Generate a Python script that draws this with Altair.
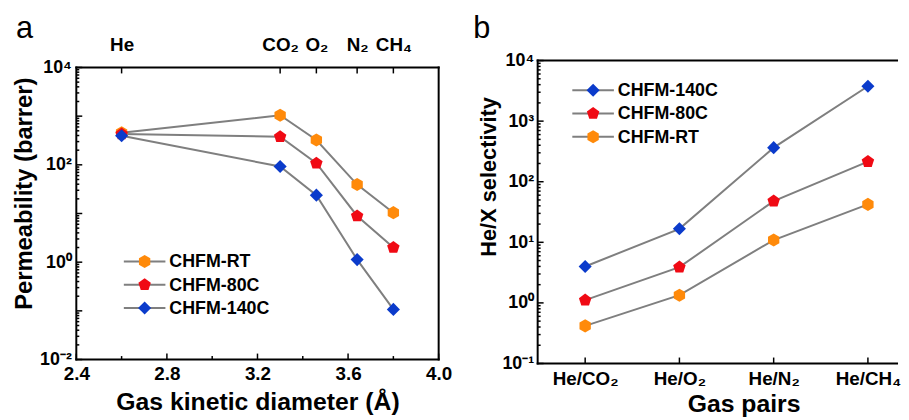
import altair as alt
import pandas as pd

# ---------------- data ----------------
gases = ["He", "CO₂", "O₂", "N₂", "CH₄"]
diameters = [2.6, 3.3, 3.46, 3.64, 3.8]
perm_rt = [455, 1043, 323, 39.3, 10.4]
perm_80c = [430, 377, 108, 8.9, 2.0]
perm_140c = [395, 92.5, 23.8, 1.13, 0.107]

pairs = ["He/CO₂", "He/O₂", "He/N₂", "He/CH₄"]
sel_140c = [3.99, 16.7, 365, 3760]
sel_80c = [1.11, 3.89, 47.8, 215]
sel_rt = [0.418, 1.34, 10.9, 42.2]

series_a = ["CHFM-RT", "CHFM-80C", "CHFM-140C"]
series_b = ["CHFM-140C", "CHFM-80C", "CHFM-RT"]

# axis tick positions
xa_major = [2.4, 2.8, 3.2, 3.6, 4.0]
xa_minor = [2.6, 3.0, 3.4, 3.8]
ya_labels = [0.01, 1, 100, 1e4]
ya_major = [0.01, 0.1, 1, 10, 100, 1000, 1e4]
yb_major = [0.1, 1, 10, 100, 1000, 1e4]

COLORS = {"CHFM-RT": "#FF8A0A", "CHFM-80C": "#F00A14", "CHFM-140C": "#0B3BCB"}
HEX = "M0,-1L0.866,-0.5L0.866,0.5L0,1L-0.866,0.5L-0.866,-0.5Z"
PENT = "M0,-1L0.951,-0.309L0.588,0.809L-0.588,0.809L-0.951,-0.309Z"
DIAM = "M-1,0L0,-1L1,0L0,1Z"
SHAPES = {"CHFM-RT": HEX, "CHFM-80C": PENT, "CHFM-140C": DIAM}

LINE = "#7f7f7f"
FONT = "Liberation Sans"
BLACK = "#000000"
MSIZE = 175

rows_a = []
for name, vals in zip(series_a, [perm_rt, perm_80c, perm_140c]):
    for g, d, v in zip(gases, diameters, vals):
        rows_a.append({"series": name, "gas": g, "diameter": d, "value": v})
df_a = pd.DataFrame(rows_a)

rows_b = []
for name, vals in zip(series_b, [sel_140c, sel_80c, sel_rt]):
    for i, (p, v) in enumerate(zip(pairs, vals)):
        rows_b.append({"series": name, "pair": p, "idx": i, "value": v})
df_b = pd.DataFrame(rows_b)

W_A, H_A = 366, 302
W_B, H_B = 363, 306
A_SHIFT = 7                                  # panel a box starts 7px below panel b box
A_TOP = 10 ** (4 + A_SHIFT / 49.17)

SUP = {-2: "⁻²", -1: "⁻¹", 0: "⁰", 1: "¹", 2: "²", 3: "³", 4: "⁴"}


def pow_label(exps):
    e = "round(log(datum.value)/LN10)"
    s = "''"
    for k in reversed(exps):
        s = f"({e} == {k} ? '{SUP[k]}' : {s})"
    return "'10' + " + s


def map_label(vals, names):
    s = "''"
    for v, n in reversed(list(zip(vals, names))):
        s = f"(abs(datum.value - {v}) < 0.001 ? '{n}' : {s})"
    return s


def log_minor(lo, hi):
    return [k * 10.0 ** e for e in range(lo, hi) for k in range(2, 10)]


def y_ticks(vals, size):
    d = pd.DataFrame({"t": vals})
    return alt.Chart(d).mark_rule(color=BLACK, strokeWidth=1.5).encode(
        y=alt.Y("t:Q", axis=None), x=alt.value(0), x2=alt.value(size))


def x_ticks(vals, y0, y1):
    d = pd.DataFrame({"t": vals})
    return alt.Chart(d).mark_rule(color=BLACK, strokeWidth=1.5).encode(
        x=alt.X("t:Q", axis=None), y=alt.value(y0), y2=alt.value(y1))


def vborder(xv, y0, y1):
    d = pd.DataFrame({"x": [xv], "y": [y0], "y2": [y1]})
    return alt.Chart(d).mark_rule(color=BLACK, strokeWidth=2, strokeCap="square").encode(
        x=alt.X("x:Q", axis=None), y=alt.Y("y:Q", axis=None), y2="y2:Q")


def hborder(yv, width):
    d = pd.DataFrame({"y": [yv]})
    return alt.Chart(d).mark_rule(color=BLACK, strokeWidth=2, strokeCap="square").encode(
        y=alt.Y("y:Q", axis=None), x=alt.value(0), x2=alt.value(width))


def panel_letter(letter, dx, dy):
    d = pd.DataFrame({"t": [letter]})
    return alt.Chart(d).mark_text(font=FONT, fontSize=31, color=BLACK, align="left",
                                  baseline="alphabetic").encode(
        text="t:N", x=alt.value(dx), y=alt.value(dy))


def legend_layers(series, cx, y0, step):
    layers = []
    for i, s in enumerate(series):
        d = pd.DataFrame({"series": [s]})
        yy = y0 + i * step
        base = alt.Chart(d)
        layers.append(base.mark_rule(color=LINE, strokeWidth=2).encode(
            x=alt.value(cx - 21), x2=alt.value(cx + 21), y=alt.value(yy)))
        layers.append(base.mark_point(filled=True, opacity=1, size=MSIZE, fill=COLORS[s],
                                      shape=SHAPES[s]).encode(
            x=alt.value(cx), y=alt.value(yy)))
        layers.append(base.mark_text(font=FONT, fontSize=18, fontWeight="bold", color=BLACK,
                                     align="left", baseline="middle").encode(
            text="series:N", x=alt.value(cx + 25), y=alt.value(yy + 1)))
    return layers


# ---------------- panel a ----------------
xa_scale = alt.Scale(domain=[2.4, 4.0], nice=False, zero=False)
ya_scale = alt.Scale(type="log", domain=[0.01, A_TOP], nice=False)

line_a = alt.Chart(df_a).mark_line(color=LINE, strokeWidth=2).encode(
    x=alt.X("diameter:Q", scale=xa_scale, axis=alt.Axis(
        orient="bottom", values=xa_major, format=".1f", ticks=False, domain=False,
        labelFlush=False, labelPadding=5, labelFontSize=19,
        title="Gas kinetic diameter (Å)", titleY=30, titleFontSize=25)),
    y=alt.Y("value:Q", scale=ya_scale, axis=alt.Axis(
        orient="left", values=ya_labels, labelExpr=pow_label([-2, 0, 2, 4]), domain=False,
        ticks=False, labelPadding=5, title="Permeability (barrer)", titleY=134, titlePadding=3)),
    detail="series:N",
    order="diameter:Q",
)

points_a = alt.Chart(df_a).mark_point(filled=True, size=MSIZE, opacity=1).encode(
    x=alt.X("diameter:Q", axis=alt.Axis(
        orient="top", values=diameters, labelExpr=map_label(diameters, gases), ticks=False,
        domain=False, labelFlush=False, labelPadding=6, labelFontSize=19, title=None)),
    y=alt.Y("value:Q", axis=None),
    fill=alt.Fill("series:N", scale=alt.Scale(domain=series_a, range=[COLORS[s] for s in series_a]),
                  legend=None),
    shape=alt.Shape("series:N", scale=alt.Scale(domain=series_a, range=[SHAPES[s] for s in series_a]),
                    legend=None),
)

panel_a = alt.layer(
    line_a, points_a,
    y_ticks(ya_major, 6), y_ticks(log_minor(-2, 4), 3),
    x_ticks(xa_major, H_A, H_A - 6), x_ticks(xa_minor, H_A, H_A - 3.5),
    x_ticks(diameters, A_SHIFT, A_SHIFT + 6),
    vborder(2.4, 0.01, 1e4), vborder(4.0, 0.01, 1e4),
    hborder(1e4, W_A), hborder(0.01, W_A),
    panel_letter("a", -61, -23),
    *legend_layers(series_a, 69, 203, 23.5),
).resolve_axis(x="independent", y="independent").properties(width=W_A, height=H_A)

# ---------------- panel b ----------------
XB0 = -0.504
XB1 = XB0 + W_B / 95.2
xb_scale = alt.Scale(domain=[XB0, XB1], nice=False, zero=False)
yb_scale = alt.Scale(type="log", domain=[0.1, 1e4], nice=False)
idx_vals = list(range(len(pairs)))

line_b = alt.Chart(df_b).mark_line(color=LINE, strokeWidth=2).encode(
    x=alt.X("idx:Q", scale=xb_scale, axis=alt.Axis(
        orient="bottom", values=idx_vals, labelExpr=map_label(idx_vals, pairs), ticks=False,
        domain=False, labelFlush=False, labelPadding=6, labelFontSize=19,
        title="Gas pairs", titleY=29, titleX=208, titleFontSize=25)),
    y=alt.Y("value:Q", scale=yb_scale, axis=alt.Axis(
        orient="left", values=yb_major, labelExpr=pow_label([-1, 0, 1, 2, 3, 4]), domain=False,
        ticks=False, labelPadding=4, title="He/X selectivity", titleY=117, titlePadding=2,
        titleFontSize=22)),
    detail="series:N",
    order="idx:Q",
)

points_b = alt.Chart(df_b).mark_point(filled=True, size=MSIZE, opacity=1).encode(
    x=alt.X("idx:Q", axis=None),
    y=alt.Y("value:Q", axis=None),
    fill=alt.Fill("series:N", scale=alt.Scale(domain=series_b, range=[COLORS[s] for s in series_b]),
                  legend=None),
    shape=alt.Shape("series:N", scale=alt.Scale(domain=series_b, range=[SHAPES[s] for s in series_b]),
                    legend=None),
)

panel_b = alt.layer(
    line_b, points_b,
    y_ticks(yb_major, 6), y_ticks(log_minor(-1, 4), 3),
    x_ticks(idx_vals, H_B, H_B - 6),
    vborder(XB0, 0.1, 1e4), hborder(1e4, W_B), hborder(0.1, W_B),
    panel_letter("b", -65, -23),
    *legend_layers(series_b, 56, 30, 23.5),
).resolve_axis(x="independent", y="independent").properties(width=W_B, height=H_B)

chart = alt.hconcat(panel_a, panel_b, spacing=21).resolve_scale(
    fill="independent", shape="independent"
).properties(
    padding={"left": 4, "top": 3, "right": 0, "bottom": 0},
    background="white",
).configure_view(strokeWidth=0).configure_axis(
    labelFont=FONT, labelFontSize=18, labelFontWeight="bold", labelColor=BLACK,
    titleFont=FONT, titleFontSize=24, titleFontWeight="bold", titleColor=BLACK,
    domainColor=BLACK, domainWidth=2, tickColor=BLACK, tickWidth=1.5, grid=False,
)

chart.save("out.html", embed_options={"renderer": "svg", "actions": False})
